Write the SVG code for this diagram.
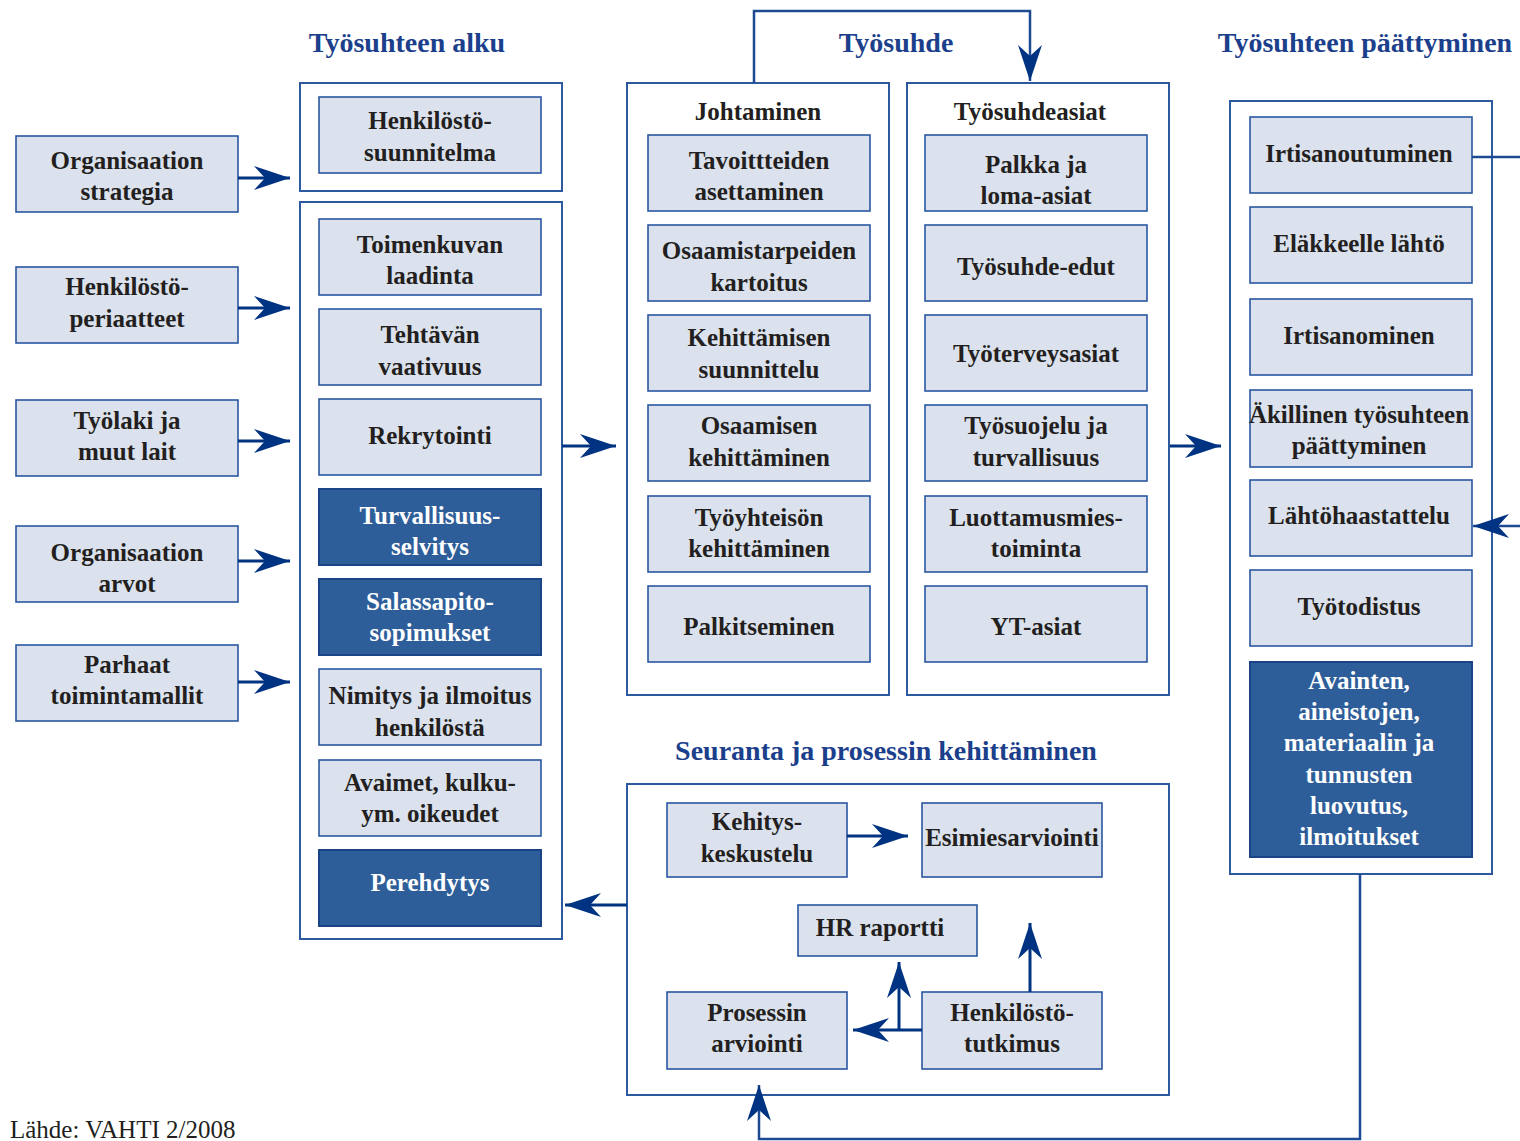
<svg xmlns="http://www.w3.org/2000/svg" width="1520" height="1141" viewBox="0 0 1520 1141">
<defs>
<marker id="ah" viewBox="-36 -13 37 26" refX="0" refY="0" markerWidth="37" markerHeight="26" markerUnits="userSpaceOnUse" orient="auto">
<path d="M0,0 L-36,-12 L-25,0 L-36,12 Z" fill="#003382"/>
</marker>
<style>
.cont{fill:#fff;stroke:#2d5a9e;stroke-width:2}
.box{fill:#dbe2ee;stroke:#2a57a0;stroke-width:1.6}
.dark{fill:#2e5e99;stroke:#1a4388;stroke-width:2}
.t{font-family:"Liberation Serif",serif;font-weight:bold;font-size:25px;fill:#231f20;text-anchor:middle}
.w{fill:#fff}
.h{font-family:"Liberation Serif",serif;font-weight:bold;font-size:28px;fill:#1c3f8c;text-anchor:middle}
.c{fill:none;stroke:#003382;stroke-width:3}
.c2{fill:none;stroke:#1e4a94;stroke-width:2.5}
</style>
</defs>
<rect width="1520" height="1141" fill="#fff"/>

<g id="titles">
<text class="h" x="407" y="52">Työsuhteen alku</text>
<text class="h" x="896" y="52">Työsuhde</text>
<text class="h" x="1365" y="52">Työsuhteen päättyminen</text>
<text class="h" x="886" y="760">Seuranta ja prosessin kehittäminen</text>
</g>

<g id="containers">
<rect class="cont" x="300" y="83" width="262" height="108"/>
<rect class="cont" x="300" y="202" width="262" height="737"/>
<rect class="cont" x="627" y="83" width="262" height="612"/>
<rect class="cont" x="907" y="83" width="262" height="612"/>
<rect class="cont" x="1230" y="101" width="262" height="773"/>
<rect class="cont" x="627" y="784" width="542" height="311"/>
<text class="t" x="758" y="120">Johtaminen</text>
<text class="t" x="1030" y="120">Työsuhdeasiat</text>
</g>

<g id="left-inputs">
<g id="n-org-strategia"><rect class="box" x="16" y="136" width="222" height="76"/><text class="t" x="127" y="169">Organisaation</text><text class="t" x="127" y="200">strategia</text></g>
<g id="n-hk-periaatteet"><rect class="box" x="16" y="267" width="222" height="76"/><text class="t" x="127" y="295">Henkilöstö-</text><text class="t" x="127" y="327">periaatteet</text></g>
<g id="n-tyolaki"><rect class="box" x="16" y="400" width="222" height="76"/><text class="t" x="127" y="429">Työlaki ja</text><text class="t" x="127" y="460">muut lait</text></g>
<g id="n-org-arvot"><rect class="box" x="16" y="526" width="222" height="76"/><text class="t" x="127" y="561">Organisaation</text><text class="t" x="127" y="592">arvot</text></g>
<g id="n-parhaat"><rect class="box" x="16" y="645" width="222" height="76"/><text class="t" x="127" y="673">Parhaat</text><text class="t" x="127" y="704">toimintamallit</text></g>
</g>

<g id="col-alku">
<g id="n-hk-suunnitelma"><rect class="box" x="319" y="97" width="222" height="76"/><text class="t" x="430" y="129">Henkilöstö-</text><text class="t" x="430" y="161">suunnitelma</text></g>
<g id="n-toimenkuva"><rect class="box" x="319" y="219" width="222" height="76"/><text class="t" x="430" y="253">Toimenkuvan</text><text class="t" x="430" y="284">laadinta</text></g>
<g id="n-tehtava"><rect class="box" x="319" y="309" width="222" height="76"/><text class="t" x="430" y="343">Tehtävän</text><text class="t" x="430" y="375">vaativuus</text></g>
<g id="n-rekry"><rect class="box" x="319" y="399" width="222" height="76"/><text class="t" x="430" y="444">Rekrytointi</text></g>
<g id="n-turva"><rect class="dark" x="319" y="489" width="222" height="76"/><text class="t w" x="430" y="524">Turvallisuus-</text><text class="t w" x="430" y="555">selvitys</text></g>
<g id="n-salassa"><rect class="dark" x="319" y="579" width="222" height="76"/><text class="t w" x="430" y="610">Salassapito-</text><text class="t w" x="430" y="641">sopimukset</text></g>
<g id="n-nimitys"><rect class="box" x="319" y="669" width="222" height="76"/><text class="t" x="430" y="704">Nimitys ja ilmoitus</text><text class="t" x="430" y="736">henkilöstä</text></g>
<g id="n-avaimet"><rect class="box" x="319" y="760" width="222" height="76"/><text class="t" x="430" y="791">Avaimet, kulku-</text><text class="t" x="430" y="822">ym. oikeudet</text></g>
<g id="n-pere"><rect class="dark" x="319" y="850" width="222" height="76"/><text class="t w" x="430" y="891">Perehdytys</text></g>
</g>

<g id="col-johtaminen">
<g id="n-tavoite"><rect class="box" x="648" y="135" width="222" height="76"/><text class="t" x="759" y="169">Tavoittteiden</text><text class="t" x="759" y="200">asettaminen</text></g>
<g id="n-osaamistarp"><rect class="box" x="648" y="225" width="222" height="76"/><text class="t" x="759" y="259">Osaamistarpeiden</text><text class="t" x="759" y="291">kartoitus</text></g>
<g id="n-kehsuun"><rect class="box" x="648" y="315" width="222" height="76"/><text class="t" x="759" y="346">Kehittämisen</text><text class="t" x="759" y="378">suunnittelu</text></g>
<g id="n-osaamkeh"><rect class="box" x="648" y="405" width="222" height="76"/><text class="t" x="759" y="434">Osaamisen</text><text class="t" x="759" y="466">kehittäminen</text></g>
<g id="n-tyoyht"><rect class="box" x="648" y="496" width="222" height="76"/><text class="t" x="759" y="526">Työyhteisön</text><text class="t" x="759" y="557">kehittäminen</text></g>
<g id="n-palkits"><rect class="box" x="648" y="586" width="222" height="76"/><text class="t" x="759" y="635">Palkitseminen</text></g>
</g>

<g id="col-tyosuhdeasiat">
<g id="n-palkka"><rect class="box" x="925" y="135" width="222" height="76"/><text class="t" x="1036" y="173">Palkka ja</text><text class="t" x="1036" y="204">loma-asiat</text></g>
<g id="n-edut"><rect class="box" x="925" y="225" width="222" height="76"/><text class="t" x="1036" y="275">Työsuhde-edut</text></g>
<g id="n-tyoterv"><rect class="box" x="925" y="315" width="222" height="76"/><text class="t" x="1036" y="362">Työterveysasiat</text></g>
<g id="n-tyosuojelu"><rect class="box" x="925" y="405" width="222" height="76"/><text class="t" x="1036" y="434">Työsuojelu ja</text><text class="t" x="1036" y="466">turvallisuus</text></g>
<g id="n-luott"><rect class="box" x="925" y="496" width="222" height="76"/><text class="t" x="1036" y="526">Luottamusmies-</text><text class="t" x="1036" y="557">toiminta</text></g>
<g id="n-yt"><rect class="box" x="925" y="586" width="222" height="76"/><text class="t" x="1036" y="635">YT-asiat</text></g>
</g>

<g id="col-paattyminen">
<g id="n-irtisanout"><rect class="box" x="1250" y="117" width="222" height="76"/><text class="t" x="1359" y="162">Irtisanoutuminen</text></g>
<g id="n-elake"><rect class="box" x="1250" y="207" width="222" height="76"/><text class="t" x="1359" y="252">Eläkkeelle lähtö</text></g>
<g id="n-irtisanom"><rect class="box" x="1250" y="299" width="222" height="76"/><text class="t" x="1359" y="344">Irtisanominen</text></g>
<g id="n-akill"><rect class="box" x="1250" y="390" width="222" height="77"/><text class="t" x="1359" y="423">Äkillinen työsuhteen</text><text class="t" x="1359" y="454">päättyminen</text></g>
<g id="n-lahto"><rect class="box" x="1250" y="480" width="222" height="76"/><text class="t" x="1359" y="524">Lähtöhaastattelu</text></g>
<g id="n-todistus"><rect class="box" x="1250" y="570" width="222" height="76"/><text class="t" x="1359" y="615">Työtodistus</text></g>
<g id="n-avainten"><rect class="dark" x="1250" y="662" width="222" height="195"/>
<text class="t w" x="1359" y="689">Avainten,</text><text class="t w" x="1359" y="720">aineistojen,</text><text class="t w" x="1359" y="751">materiaalin ja</text><text class="t w" x="1359" y="783">tunnusten</text><text class="t w" x="1359" y="814">luovutus,</text><text class="t w" x="1359" y="845">ilmoitukset</text></g>
</g>

<g id="col-seuranta">
<g id="n-kehkesk"><rect class="box" x="667" y="803" width="180" height="74"/><text class="t" x="757" y="830">Kehitys-</text><text class="t" x="757" y="862">keskustelu</text></g>
<g id="n-esimies"><rect class="box" x="922" y="803" width="180" height="74"/><text class="t" x="1012" y="846">Esimiesarviointi</text></g>
<g id="n-hr"><rect class="box" x="798" y="905" width="179" height="51"/><text class="t" x="880" y="936">HR raportti</text></g>
<g id="n-prosessin"><rect class="box" x="667" y="992" width="180" height="77"/><text class="t" x="757" y="1021">Prosessin</text><text class="t" x="757" y="1052">arviointi</text></g>
<g id="n-hktutk"><rect class="box" x="922" y="992" width="180" height="77"/><text class="t" x="1012" y="1021">Henkilöstö-</text><text class="t" x="1012" y="1052">tutkimus</text></g>
</g>

<g id="connectors">
<path class="c" d="M238 178 H290" marker-end="url(#ah)"/>
<path class="c" d="M238 308 H290" marker-end="url(#ah)"/>
<path class="c" d="M238 441 H290" marker-end="url(#ah)"/>
<path class="c" d="M238 561 H290" marker-end="url(#ah)"/>
<path class="c" d="M238 682 H290" marker-end="url(#ah)"/>
<path class="c" d="M562 446 H616" marker-end="url(#ah)"/>
<path class="c" d="M1170 446 H1221" marker-end="url(#ah)"/>
<path class="c" d="M627 905 H565" marker-end="url(#ah)"/>
<path class="c2" d="M754 83 V11 H1030 V81" marker-end="url(#ah)"/>
<path class="c2" d="M1472 157 H1520"/>
<path class="c2" d="M1520 526 H1473" marker-end="url(#ah)"/>
<path class="c2" d="M1360 874 V1139 H759 V1085" marker-end="url(#ah)"/>
<path class="c" d="M847 836 H908" marker-end="url(#ah)"/>
<path class="c" d="M922 1030 H853" marker-end="url(#ah)"/>
<path class="c" d="M899 1030 V962" marker-end="url(#ah)"/>
<path class="c" d="M1030 992 V923" marker-end="url(#ah)"/>
</g>

<text x="10" y="1138" font-family="Liberation Serif, serif" font-size="25" fill="#231f20">Lähde: VAHTI 2/2008</text>
</svg>
